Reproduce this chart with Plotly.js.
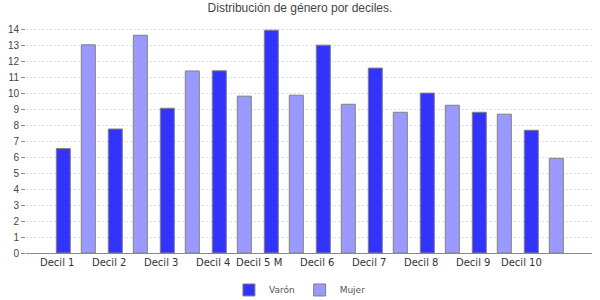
<!DOCTYPE html>
<html>
<head>
<meta charset="utf-8">
<script src="https://cdn.plot.ly/plotly-3.0.1.min.js"></script>
<style>
  html, body { margin: 0; padding: 0; background: #fff; }
  #chart { width: 600px; height: 300px; }
</style>
</head>
<body>
<div id="chart"></div>
<script>
// Datos
const deciles = ['Decil 1', 'Decil 2', 'Decil 3', 'Decil 4', 'Decil 5 M',
                 'Decil 6', 'Decil 7', 'Decil 8', 'Decil 9', 'Decil 10'];
const varon = [6.55, 7.78, 9.08, 11.43, 13.98, 13.04, 11.6, 10.03, 8.83, 7.7];
const mujer = [13.06, 13.66, 11.42, 9.84, 9.9, 9.33, 8.83, 9.27, 8.71, 5.94];
const yTicks = [0, 1, 2, 3, 4, 5, 6, 7, 8, 9, 10, 11, 12, 13, 14];

const borde = { color: '#808080', width: 1 };

const traces = [
  { x: deciles, y: varon, type: 'bar', name: 'Varón',
    marker: { color: '#3333ff', line: borde }, hoverinfo: 'skip' },
  { x: deciles, y: mujer, type: 'bar', name: 'Mujer',
    marker: { color: '#9999ff', line: borde }, hoverinfo: 'skip' }
];

// etiquetas del eje X alineadas a la derecha del centro de cada grupo
const etiquetas = deciles.map(d => ({
  x: d, y: 0, xref: 'x', yref: 'paper',
  xanchor: 'right', yanchor: 'top', yshift: -2,
  text: d, showarrow: false,
  font: { family: 'DejaVu Sans', size: 10, color: '#333' }
}));

const layout = {
  width: 600, height: 300,
  margin: { l: 26, r: 8, t: 19, b: 47, autoexpand: false },
  paper_bgcolor: '#fff', plot_bgcolor: '#fff',
  title: {
    text: 'Distribución de género por deciles.',
    font: { family: 'Liberation Sans', size: 12, color: '#444' },
    x: 0.5, xref: 'container', xanchor: 'center',
    y: 0.973, yref: 'container', yanchor: 'middle'
  },
  barmode: 'group',
  bargap: 0.0385,
  bargroupgap: 0.44,
  xaxis: {
    type: 'category',
    range: [-0.958, 9.927],
    showticklabels: false,
    ticks: '',
    showgrid: false,
    showline: true, linecolor: '#888', linewidth: 1,
    zeroline: false, fixedrange: true
  },
  yaxis: {
    range: [0, 14.68],
    tickvals: yTicks,
    ticks: 'outside', ticklen: 4, tickcolor: '#888',
    tickfont: { family: 'Liberation Sans', size: 10, color: '#444' },
    showgrid: true, gridcolor: '#dedede', griddash: '2px,2px', gridwidth: 1,
    showline: false, zeroline: false, fixedrange: true
  },
  showlegend: true,
  legend: {
    orientation: 'h',
    x: 0.484, xanchor: 'center',
    y: -0.158, yanchor: 'middle',
    font: { family: 'DejaVu Sans', size: 9, color: '#555' },
    itemwidth: 30,
    itemclick: false, itemdoubleclick: false
  },
  annotations: etiquetas
};

Plotly.newPlot('chart', traces, layout, { staticPlot: true, displayModeBar: false });
</script>
</body>
</html>
